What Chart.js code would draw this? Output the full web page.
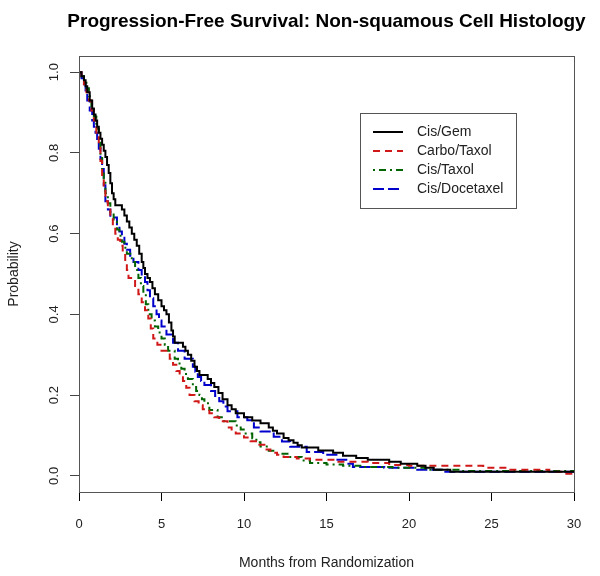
<html>
<head>
    <script src="https://cdn.jsdelivr.net/npm/chart.js@4.4.3/dist/chart.umd.min.js"></script>
</head>
<body style="margin:0;background:#fff">
    <canvas id="mychart" width="600" height="576"></canvas>
    <script>
        // Kaplan-Meier curves, values
        seriesNames = ["Cis/Gem", "Carbo/Taxol", "Cis/Taxol", "Cis/Docetaxel"];
        seriesColors = ["#000000", "#d01818", "#006400", "#0000cd"];

        gemTime = [0, 0.15, 0.3, 0.4, 0.5, 0.65, 0.8, 0.9, 1.0, 1.1, 1.2, 1.3, 1.4, 1.5, 1.6, 1.7, 1.8, 1.9, 2.0, 2.1, 2.2, 2.6, 2.75, 2.9, 3.05, 3.2, 3.35, 3.5, 3.65, 3.8, 3.9, 4.0, 4.15, 4.3, 4.45, 4.6, 4.8, 5.0, 5.15, 5.3, 5.45, 5.6, 5.7, 5.8, 6.3, 6.45, 6.6, 6.8, 7.0, 7.15, 7.3, 7.8, 8.0, 8.2, 8.45, 8.7, 9.0, 9.25, 9.5, 10.0, 10.5, 11.0, 11.5, 11.75, 12.0, 12.4, 12.7, 13.0, 13.25, 13.5, 14.5, 15.4, 16.0, 16.8, 17.5, 18.8, 19.5, 20.5, 21.0, 21.5, 22.5, 30];
        gemSurv = [1.0, 0.99, 0.98, 0.965, 0.95, 0.93, 0.91, 0.895, 0.88, 0.865, 0.85, 0.835, 0.82, 0.805, 0.79, 0.77, 0.75, 0.725, 0.70, 0.685, 0.67, 0.66, 0.645, 0.63, 0.615, 0.60, 0.585, 0.57, 0.55, 0.53, 0.515, 0.50, 0.49, 0.48, 0.465, 0.45, 0.435, 0.42, 0.41, 0.40, 0.38, 0.36, 0.345, 0.33, 0.32, 0.31, 0.30, 0.285, 0.27, 0.26, 0.25, 0.24, 0.23, 0.22, 0.205, 0.19, 0.175, 0.165, 0.155, 0.145, 0.137, 0.13, 0.12, 0.112, 0.105, 0.094, 0.088, 0.082, 0.076, 0.07, 0.063, 0.057, 0.05, 0.044, 0.04, 0.035, 0.03, 0.025, 0.02, 0.015, 0.01, 0.01];

        carboTime = [0, 0.15, 0.3, 0.45, 0.6, 0.75, 0.9, 1.05, 1.2, 1.3, 1.4, 1.5, 1.6, 1.75, 1.9, 2.05, 2.2, 2.35, 2.5, 2.65, 2.8, 2.9, 3.0, 3.4, 3.6, 3.8, 4.0, 4.2, 4.35, 4.5, 4.75, 5.0, 5.5, 5.7, 5.9, 6.1, 6.3, 6.5, 6.7, 7.0, 7.25, 7.5, 7.9, 8.2, 8.5, 9.0, 9.25, 9.5, 10.0, 10.4, 10.8, 11.3, 11.6, 12.0, 12.4, 13.2, 14.0, 15.6, 17.5, 18.8, 20.0, 24.5, 26.0, 28.5, 29.3, 30];
        carboSurv = [1.0, 0.985, 0.97, 0.95, 0.93, 0.905, 0.88, 0.85, 0.82, 0.78, 0.74, 0.71, 0.68, 0.66, 0.64, 0.62, 0.60, 0.585, 0.57, 0.55, 0.53, 0.51, 0.49, 0.47, 0.45, 0.43, 0.41, 0.39, 0.365, 0.34, 0.325, 0.31, 0.29, 0.275, 0.26, 0.248, 0.235, 0.218, 0.20, 0.185, 0.175, 0.165, 0.155, 0.145, 0.135, 0.12, 0.112, 0.105, 0.095, 0.086, 0.077, 0.065, 0.057, 0.052, 0.047, 0.043, 0.04, 0.035, 0.032, 0.027, 0.025, 0.02, 0.015, 0.01, 0.005, 0.005];

        taxolTime = [0, 0.15, 0.3, 0.45, 0.6, 0.75, 0.9, 1.05, 1.2, 1.3, 1.4, 1.5, 1.6, 1.75, 1.9, 2.1, 2.3, 2.45, 2.6, 2.75, 2.9, 3.2, 3.4, 3.6, 3.75, 3.9, 4.05, 4.2, 4.4, 4.6, 4.8, 5.0, 5.2, 5.4, 5.8, 6.0, 6.2, 6.4, 6.6, 6.9, 7.1, 7.3, 7.45, 7.6, 7.9, 8.4, 8.8, 9.5, 9.8, 10.1, 10.5, 10.75, 11.0, 11.5, 12.0, 12.8, 13.5, 14.0, 15.0, 16.0, 17.2, 19.0, 21.0, 23.0, 30];
        taxolSurv = [1.0, 0.99, 0.98, 0.96, 0.94, 0.915, 0.89, 0.86, 0.83, 0.795, 0.76, 0.73, 0.70, 0.675, 0.65, 0.63, 0.61, 0.595, 0.58, 0.565, 0.55, 0.53, 0.51, 0.49, 0.47, 0.45, 0.425, 0.40, 0.385, 0.37, 0.355, 0.34, 0.325, 0.31, 0.29, 0.278, 0.265, 0.252, 0.24, 0.22, 0.21, 0.20, 0.19, 0.18, 0.163, 0.145, 0.135, 0.125, 0.115, 0.105, 0.093, 0.083, 0.073, 0.062, 0.055, 0.047, 0.038, 0.032, 0.028, 0.025, 0.022, 0.02, 0.015, 0.012, 0.01];

        doceTime = [0, 0.15, 0.3, 0.4, 0.5, 0.65, 0.8, 0.9, 1.0, 1.1, 1.2, 1.3, 1.4, 1.5, 1.6, 1.75, 1.9, 2.3, 2.45, 2.6, 2.75, 2.9, 3.1, 3.3, 3.6, 3.8, 4.0, 4.15, 4.3, 4.5, 4.7, 4.85, 5.0, 5.3, 5.7, 6.0, 6.4, 6.9, 7.05, 7.2, 7.4, 7.6, 8.0, 8.25, 8.5, 8.75, 9.0, 9.6, 10.2, 10.6, 11.0, 11.8, 12.3, 12.8, 13.8, 14.8, 15.6, 16.2, 16.6, 18.5, 20.5, 22.0, 30];
        doceSurv = [1.0, 0.985, 0.97, 0.95, 0.93, 0.905, 0.88, 0.865, 0.85, 0.83, 0.81, 0.785, 0.76, 0.72, 0.68, 0.66, 0.64, 0.62, 0.605, 0.59, 0.575, 0.56, 0.545, 0.53, 0.51, 0.495, 0.48, 0.46, 0.44, 0.42, 0.40, 0.385, 0.37, 0.35, 0.33, 0.31, 0.29, 0.27, 0.258, 0.245, 0.235, 0.225, 0.21, 0.198, 0.185, 0.172, 0.16, 0.145, 0.138, 0.12, 0.11, 0.097, 0.085, 0.072, 0.059, 0.052, 0.04, 0.03, 0.022, 0.02, 0.015, 0.01, 0.01];

        xTicks = [0, 5, 10, 15, 20, 25, 30];
        yTicks = [0, 0.2, 0.4, 0.6, 0.8, 1.0];
        titleText = "Progression-Free Survival: Non-squamous Cell Histology";
        xTitle = "Months from Randomization";
        yTitle = "Probability";

        fontName = "'Liberation Sans', Arial, sans-serif";
        Chart.defaults.font.family = fontName;
        Chart.defaults.color = "#222";

        function pts(t, s) {
            out = [];
            for (i = 0; i < t.length; i++) out.push({x: t[i], y: s[i]});
            return out;
        }
        allData = [pts(gemTime, gemSurv), pts(carboTime, carboSurv), pts(taxolTime, taxolSurv), pts(doceTime, doceSurv)];
        dashes = [[], [7, 5], [2, 4, 7, 4], [11, 4]];

        datasets = [];
        for (k = 0; k < 4; k++) {
            datasets.push({
                label: seriesNames[k],
                data: allData[k],
                borderColor: seriesColors[k],
                borderWidth: 2,
                borderDash: dashes[k],
                stepped: "before",
                pointRadius: 0,
                fill: false
            });
        }

        // title, framed box, rotated y labels and legend, like the R plot
        rStyle = {
            id: "rStyle",
            afterDraw(chart) {
                ctx = chart.ctx;
                a = chart.chartArea;
                ctx.save();
                ctx.strokeStyle = "#555";
                ctx.lineWidth = 1;
                ctx.strokeRect(Math.round(a.left) + 0.5, Math.round(a.top) + 0.5, Math.round(a.right - a.left), Math.round(a.bottom - a.top));

                ctx.fillStyle = "#000";
                ctx.font = "bold 19px " + fontName;
                ctx.textAlign = "center";
                ctx.textBaseline = "middle";
                ctx.fillText(titleText, (a.left + a.right) / 2, 22);

                ys = chart.scales.y;
                ctx.fillStyle = "#222";
                ctx.font = "13px " + fontName;
                yTicks.forEach(function (v) {
                    ctx.save();
                    ctx.translate(54, ys.getPixelForValue(v));
                    ctx.rotate(-Math.PI / 2);
                    ctx.fillText(v.toFixed(1), 0, 0);
                    ctx.restore();
                });

                bx = 360, by = 113, bw = 156, bh = 95;
                ctx.strokeStyle = "#555";
                ctx.strokeRect(bx + 0.5, by + 0.5, bw, bh);
                ctx.font = "14px " + fontName;
                ctx.textAlign = "left";
                chart.data.datasets.forEach(function (d, i) {
                    yy = 132 + i * 19;
                    ctx.strokeStyle = d.borderColor;
                    ctx.lineWidth = 2;
                    ctx.setLineDash(d.borderDash);
                    ctx.beginPath();
                    ctx.moveTo(373, yy);
                    ctx.lineTo(403, yy);
                    ctx.stroke();
                    ctx.setLineDash([]);
                    ctx.fillStyle = "#222";
                    ctx.fillText(d.label, 417, yy);
                });
                ctx.restore();
            }
        };

        config = {
            type: "line",
            data: {datasets: datasets},
            options: {
                responsive: false,
                animation: false,
                layout: {padding: {top: 56, right: 26, left: 0, bottom: 0}},
                plugins: {legend: {display: false}, tooltip: {enabled: false}},
                scales: {
                    x: {
                        type: "linear",
                        min: 0,
                        max: 30,
                        afterBuildTicks: function (s) { s.ticks = xTicks.map(function (v) { return {value: v}; }); },
                        afterFit: function (s) { s.height = 84; },
                        ticks: {font: {size: 13}, padding: 16, maxRotation: 0},
                        grid: {drawOnChartArea: false, tickLength: 9, color: "#000"},
                        border: {color: "#000"},
                        title: {display: true, text: xTitle, font: {size: 14}, padding: {top: 0, bottom: 4}}
                    },
                    y: {
                        type: "linear",
                        min: -0.04,
                        max: 1.04,
                        afterBuildTicks: function (s) { s.ticks = yTicks.map(function (v) { return {value: v}; }); },
                        afterFit: function (s) { s.width = 79; },
                        ticks: {display: false},
                        grid: {drawOnChartArea: false, tickLength: 9, color: "#444"},
                        border: {color: "#555"},
                        title: {display: true, text: yTitle, font: {size: 14}, padding: {top: 6, bottom: 0}}
                    }
                }
            },
            plugins: [rStyle]
        };
        new Chart(document.querySelector("#mychart"), config);
    </script>
</body>
</html>
